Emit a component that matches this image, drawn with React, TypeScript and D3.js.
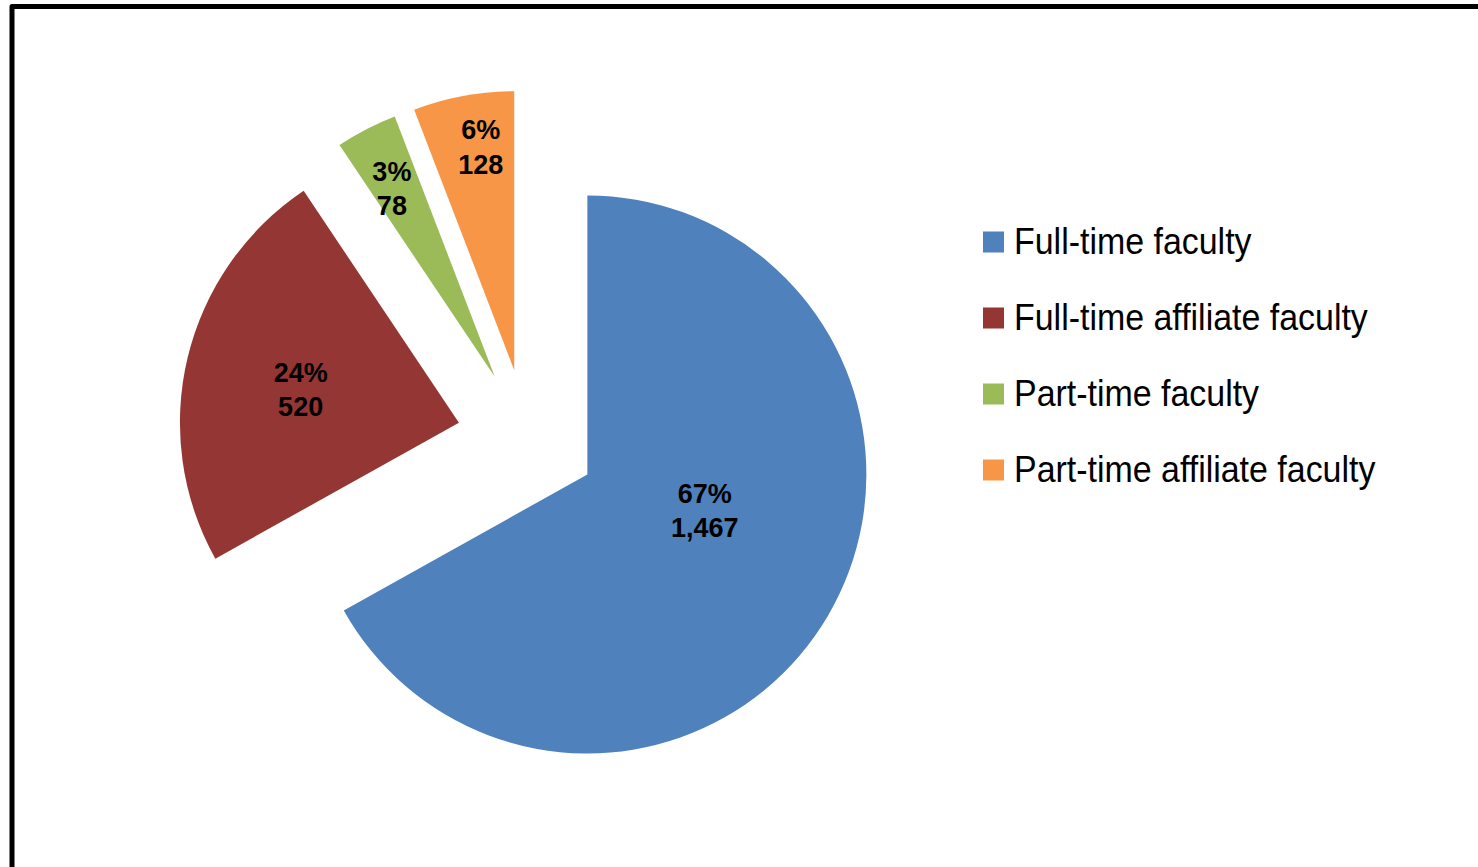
import { useEffect, useRef } from "react";
import * as d3 from "d3";

const categories = [
  "Full-time faculty",
  "Full-time affiliate faculty",
  "Part-time faculty",
  "Part-time affiliate faculty",
];
const counts = [1467, 520, 78, 128];
const percentLabels = ["67%", "24%", "3%", "6%"];
const countLabels = ["1,467", "520", "78", "128"];
const colors = ["#4F81BD", "#943634", "#9BBB59", "#F79646"];

interface Slice {
  name: string;
  value: number;
  pct: string;
  num: string;
  color: string;
}

const slices: Slice[] = categories.map((name, i) => ({
  name,
  value: counts[i],
  pct: percentLabels[i],
  num: countLabels[i],
  color: colors[i],
}));

// label placement inside each slice: fraction of radius, angle shift (deg)
const labelPlacement: [number, number][] = [
  [0.44, -13.5],
  [0.58, -1.5],
  [0.77, -1.2],
  [0.81, 2],
];

const FONT = "'Liberation Sans', Arial, sans-serif";

const App = () => {
  const svgRef = useRef<SVGSVGElement | null>(null);

  useEffect(() => {
    const width = 1478;
    const height = 867;
    const svg = d3.select(svgRef.current);
    svg.attr("viewBox", `0 0 ${width} ${height}`);
    svg.selectAll("*").remove();

    // frame (only top and left edges visible)
    svg
      .append("path")
      .attr("d", `M12,${height + 10} L12,6.5 L${width + 10},6.5`)
      .attr("fill", "none")
      .attr("stroke", "#000")
      .attr("stroke-width", 5)
      .attr("stroke-linejoin", "round");

    const cx = 527;
    const cy = 439;
    const radius = 279;
    const explode = 70;

    const pie = d3
      .pie<Slice>()
      .sort(null)
      .value((d) => d.value)
      .startAngle(0)
      .endAngle(Math.PI * 2);

    const arc = d3
      .arc<d3.PieArcDatum<Slice>>()
      .innerRadius(0)
      .outerRadius(radius);

    const arcs = pie(slices);

    const g = svg.append("g").attr("transform", `translate(${cx},${cy})`);

    const sliceG = g
      .selectAll("g.slice")
      .data(arcs)
      .join("g")
      .attr("class", "slice")
      .attr("transform", (d) => {
        const mid = (d.startAngle + d.endAngle) / 2;
        return `translate(${Math.sin(mid) * explode},${-Math.cos(mid) * explode})`;
      });

    sliceG
      .append("path")
      .attr("d", arc)
      .attr("fill", (d) => d.data.color);

    const labels = sliceG
      .append("text")
      .attr("transform", (d, i) => {
        const [frac, shift] = labelPlacement[i];
        const a = (d.startAngle + d.endAngle) / 2 + (shift * Math.PI) / 180;
        return `translate(${Math.sin(a) * radius * frac},${-Math.cos(a) * radius * frac})`;
      })
      .attr("text-anchor", "middle")
      .attr("font-family", FONT)
      .attr("font-weight", "bold")
      .attr("font-size", 27)
      .attr("fill", "#000");

    labels
      .append("tspan")
      .attr("x", 0)
      .attr("y", -7.5)
      .text((d) => d.data.pct);
    labels
      .append("tspan")
      .attr("x", 0)
      .attr("y", 27)
      .text((d) => d.data.num);

    // legend
    const legendY = d3
      .scalePoint<string>()
      .domain(categories)
      .range([242, 470]);

    const legend = svg
      .append("g")
      .selectAll("g")
      .data(slices)
      .join("g")
      .attr("transform", (d) => `translate(983,${legendY(d.name)})`);

    legend
      .append("rect")
      .attr("x", 0)
      .attr("y", -10.5)
      .attr("width", 21)
      .attr("height", 21)
      .attr("fill", (d) => d.color);

    legend
      .append("text")
      .attr("transform", "translate(31,11.5) scale(0.905,1)")
      .attr("font-family", FONT)
      .attr("font-size", 37.5)
      .attr("fill", "#000")
      .text((d) => d.name);
  }, []);

  return (
    <svg
      ref={svgRef}
      role="img"
      aria-label="Faculty composition pie chart"
      width={1478}
      height={867}
      style={{ position: "absolute", left: 0, top: 0, display: "block" }}
    />
  );
};

export default App;
